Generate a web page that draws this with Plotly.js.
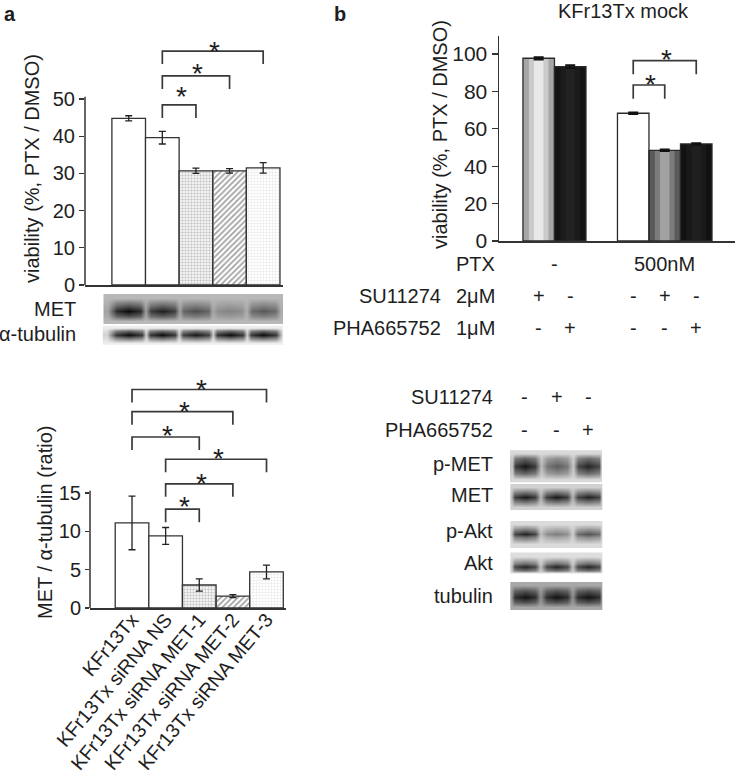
<!DOCTYPE html>
<html><head><meta charset="utf-8">
<script src="https://cdn.plot.ly/plotly-3.0.1.min.js"></script>
<style>html,body{margin:0;padding:0;background:#fff}#chart{width:737px;height:776px}</style>
</head><body><div id="chart"></div>
<script>
// ================= DATA =================
// Panel a
const aCategories = ['KFr13Tx','KFr13Tx siRNA NS','KFr13Tx siRNA MET-1','KFr13Tx siRNA MET-2','KFr13Tx siRNA MET-3'];
const aIndex = [0,1,2,3,4];
const aViability = [44.8, 39.6, 30.7, 30.7, 31.5];
const aViabilityErr = [0.7, 1.7, 0.7, 0.6, 1.4];
const aRatio = [11.1, 9.4, 3.0, 1.55, 4.7];
const aRatioErr = [3.5, 1.1, 0.8, 0.2, 0.9];
const aViabTicks = [0,10,20,30,40,50];
const aRatioTicks = [0,5,10,15];
// significance brackets (category index from / to, bracket top, star centre)
const aViabSigFrom = [1,1,1];
const aViabSigTo   = [2,3,4];
const aViabSigTop  = [48.4, 56.2, 62.9];
const aViabSigStar = [52.7, 58.9, 65.0];
const aRatioSigFrom = [0,0,0,1,1,1];
const aRatioSigTo   = [4,3,2,4,3,2];
const aRatioSigTop  = [28.5, 25.6, 22.3, 19.4, 16.2, 12.9];
const aRatioSigStar = [29.6, 26.7, 23.6, 20.5, 17.3, 14.3];
// western blot band strength per lane (panel a)
const aBlotMET = [1.0, 0.88, 0.6, 0.3, 0.55];
const aBlotTubulin = [1.0, 1.0, 0.95, 1.0, 1.0];

// Panel b
const bPositions = [0,1,3,4,5];
const bViability = [97.7, 93.2, 68.3, 48.5, 51.9];
const bViabilityErr = [0.6, 0.7, 0.4, 0.4, 0.4];
const bTicks = [0,20,40,60,80,100];
const bSigFrom = [3,3];
const bSigTo   = [4,5];
const bSigTop  = [83.4, 96.4];
const bSigStar = [88.2, 101.2];
const bPTXLabels = ['-','500nM'];
const bPTXPos = [0.5, 4];
const bSU11274 = ['+','-','-','+','-'];
const bPHA665752 = ['-','+','-','-','+'];
// western blot (panel b)
const bLanes = [0,1,2];
const bBlotSU = ['-','+','-'];
const bBlotPHA = ['-','-','+'];
const bBlotPMET = [0.95, 0.6, 0.88];
const bBlotMET = [0.92, 0.92, 0.88];
const bBlotPAkt = [0.88, 0.45, 0.65];
const bBlotAkt = [0.88, 0.88, 0.88];
const bBlotTubulin = [0.95, 0.95, 0.95];

// ================= HELPERS =================
const W = 737, H = 776;
const px = v => v / W;
const py = v => 1 - v / H;
const FONT = 'Liberation Sans, Arial, sans-serif';
const TXT = '#1e1e1e';
const FS = 20;

function brackets(from, to, top, drop, xa, ya) {
  const x = [], y = [];
  from.forEach((f, i) => {
    x.push(f, f, to[i], to[i], null);
    y.push(top[i] - drop, top[i], top[i], top[i] - drop, null);
  });
  return {type:'scatter', mode:'lines', x, y, xaxis:xa, yaxis:ya,
    line:{color:'#3a3a3a', width:1.7}, hoverinfo:'skip', showlegend:false};
}
function stars(from, to, yv, xa, ya) {
  return from.map((f, i) => ({text:'*', x:(f + to[i]) / 2 + 0.06, y:yv[i], xref:xa, yref:ya,
    showarrow:false, yshift:-8, font:{size:28, family:FONT, color:TXT}}));
}
const rowFactor = [0, 0.6, 1, 0.6, 0];
function blot(strength, lanePos, laneHalf, x0, x1, yTop, yBot, yc, hh, bg, xa, ya) {
  const cols = [{x:x0, lane:0, f:0.12}];
  lanePos.forEach((p, i) => {
    cols.push({x:p - laneHalf, lane:i, f:0.8});
    cols.push({x:p, lane:i, f:1});
    cols.push({x:p + laneHalf, lane:i, f:0.8});
    if (i < lanePos.length - 1) cols.push({x:(p + lanePos[i + 1]) / 2, lane:i, f:0.15});
  });
  cols.push({x:x1, lane:lanePos.length - 1, f:0.12});
  const ys = [yTop, yc - hh, yc, yc + hh, yBot];
  const z = ys.map((_, r) => cols.map(c => bg - (bg - 0.04) * strength[c.lane] * c.f * rowFactor[r]));
  return {type:'heatmap', x:cols.map(c => c.x), y:ys, z, zsmooth:'best',
    colorscale:[[0,'#000'],[1,'#fff']], zmin:0, zmax:1, showscale:false,
    hoverinfo:'skip', xaxis:xa, yaxis:ya};
}

// bar styling (panel a)
const aFill = ['#ffffff','#ffffff','#c9c9c9','#a2a2a2','#e6e6e6'];
const aPatShape = ['','','.','/','+'];
const aPatFg = ['#000','#000','#6a6a6a','#444444','#a8a8a8'];
const aPatSize = [4,4,3,4,3];
const aPatSol = [0.3,0.3,0.5,0.45,0.3];
function aBars(yv, err, xa, ya) {
  return {type:'bar', x:aIndex, y:yv, width:1, xaxis:xa, yaxis:ya, hoverinfo:'skip', showlegend:false,
    marker:{color:aFill, line:{color:'#333', width:1.3},
      pattern:{shape:aPatShape, fgcolor:aPatFg, bgcolor:aFill, size:aPatSize, solidity:aPatSol}},
    error_y:{type:'data', array:err, visible:true, color:'#222', thickness:1.3, width:3.5}};
}

// ================= TRACES =================
const traces = [];
traces.push(aBars(aViability, aViabilityErr, 'x', 'y'));
traces.push(brackets(aViabSigFrom, aViabSigTo, aViabSigTop, 3.5, 'x', 'y'));
traces.push(aBars(aRatio, aRatioErr, 'x2', 'y2'));
traces.push(brackets(aRatioSigFrom, aRatioSigTo, aRatioSigTop, 1.7, 'x2', 'y2'));

// panel b bars with shaded (cylinder-like) fills
const bBase = ['#a6a6a6','#141414','#ffffff','#5a5a5a','#111111'];
const bMid  = ['#cacaca','#1b1b1b','#ffffff','#7c7c7c','#191919'];
const bLight= ['#e8e8e8','#222222','#ffffff','#a2a2a2','#1f1f1f'];
traces.push({type:'bar', x:bPositions, y:bViability, width:1, xaxis:'x3', yaxis:'y3',
  marker:{color:bBase, line:{width:0}}, hoverinfo:'skip', showlegend:false});
traces.push({type:'bar', x:bPositions, y:bViability, width:0.62, xaxis:'x3', yaxis:'y3',
  marker:{color:bMid, line:{width:0}}, hoverinfo:'skip', showlegend:false});
traces.push({type:'bar', x:bPositions, y:bViability, width:0.3, xaxis:'x3', yaxis:'y3',
  marker:{color:bLight, line:{width:0}}, hoverinfo:'skip', showlegend:false});
traces.push({type:'bar', x:bPositions, y:bViability, width:1, xaxis:'x3', yaxis:'y3',
  marker:{color:'rgba(0,0,0,0)', line:{color:'#2a2a2a', width:1.3}}, hoverinfo:'skip', showlegend:false,
  error_y:{type:'data', array:bViabilityErr, visible:true, color:'#111', thickness:2, width:5}});
traces.push(brackets(bSigFrom, bSigTo, bSigTop, 7.3, 'x3', 'y3'));

// western blots
traces.push(blot(aBlotMET, aIndex, 0.36, -0.62, 4.52, 298, 321, 311, 5, 0.72, 'x', 'y4'));
traces.push(blot(aBlotTubulin, aIndex, 0.38, -0.64, 4.54, 327.5, 342.5, 334.5, 3.5, 0.93, 'x', 'y4'));
traces.push(blot(bBlotPMET, bLanes, 0.32, -0.42, 2.4, 453, 479, 466, 7.5, 0.85, 'x5', 'y5'));
traces.push(blot(bBlotMET, bLanes, 0.34, -0.42, 2.4, 487, 507, 497, 4, 0.82, 'x5', 'y5'));
traces.push(blot(bBlotPAkt, bLanes, 0.34, -0.42, 2.4, 524, 544, 533.5, 3.5, 0.86, 'x5', 'y5'));
traces.push(blot(bBlotAkt, bLanes, 0.34, -0.42, 2.4, 556, 572, 566.5, 3.5, 0.87, 'x5', 'y5'));
traces.push(blot(bBlotTubulin, bLanes, 0.34, -0.42, 2.4, 585, 607, 596.5, 5.5, 0.66, 'x5', 'y5'));

// ================= ANNOTATIONS =================
const ann = [];
function label(text, xpx, basePx, anchor, size, extra) {
  const fs = size || FS;
  ann.push(Object.assign({text, x:px(xpx), y:py(basePx - 0.3 * fs), xref:'paper', yref:'paper',
    xanchor:anchor || 'right', yanchor:'middle', showarrow:false,
    font:{size:fs, family:FONT, color:TXT}}, extra || {}));
}
ann.push({text:'<b>a</b>', x:px(2), y:py(13.5), xref:'paper', yref:'paper', xanchor:'left', yanchor:'middle',
  showarrow:false, font:{size:20, family:FONT, color:TXT}});
ann.push({text:'<b>b</b>', x:px(332), y:py(13.5), xref:'paper', yref:'paper', xanchor:'left', yanchor:'middle',
  showarrow:false, font:{size:20, family:FONT, color:TXT}});
label('KFr13Tx mock', 623, 17, 'center', 20);
// y axis titles
ann.push({text:'viability (%, PTX / DMSO)', textangle:-90, x:px(32), y:py(169), xref:'paper', yref:'paper',
  xanchor:'center', yanchor:'middle', showarrow:false, font:{size:FS, family:FONT, color:TXT}});
ann.push({text:'MET / α-tubulin (ratio)', textangle:-90, x:px(45), y:py(523), xref:'paper', yref:'paper',
  xanchor:'center', yanchor:'middle', showarrow:false, font:{size:FS, family:FONT, color:TXT}});
ann.push({text:'viability (%, PTX / DMSO)', textangle:-90, x:px(440), y:py(134), xref:'paper', yref:'paper',
  xanchor:'center', yanchor:'middle', showarrow:false, font:{size:FS, family:FONT, color:TXT}});
// panel a blot labels
label('MET', 78, 315);
label('α-tubulin', 78, 340);
// panel b condition rows
label('PTX', 497, 270);
label('SU11274', 443, 302);
label('2μM', 497, 302);
label('PHA665752', 443, 334);
label('1μM', 497, 334);
function signs(arr, pos, basePx, xa) {
  arr.forEach((s, i) => ann.push({text:s, x:pos[i], xref:xa, y:py(basePx - 0.3 * FS), yref:'paper',
    xanchor:'center', yanchor:'middle', showarrow:false, font:{size:FS, family:FONT, color:TXT}}));
}
signs(bPTXLabels, bPTXPos, 270, 'x3');
signs(bSU11274, bPositions, 302, 'x3');
signs(bPHA665752, bPositions, 334, 'x3');
// panel b blot section
label('SU11274', 495, 403);
label('PHA665752', 495, 436);
signs(bBlotSU, bLanes, 403, 'x5');
signs(bBlotPHA, bLanes, 436, 'x5');
label('p-MET', 495, 470);
label('MET', 495, 501.5);
label('p-Akt', 495, 536.5);
label('Akt', 495, 569);
label('tubulin', 495, 601.5);
// stars
ann.push(...stars(aViabSigFrom, aViabSigTo, aViabSigStar, 'x', 'y'));
ann.push(...stars(aRatioSigFrom, aRatioSigTo, aRatioSigStar, 'x2', 'y2'));
ann.push(...stars(bSigFrom, bSigTo, bSigStar, 'x3', 'y3'));

// partial y-axis lines for panel a charts
const shapes = [
  {type:'line', xref:'x domain', yref:'y', x0:0, x1:0, y0:0, y1:50.6, line:{color:'#333', width:1.5}},
  {type:'line', xref:'x2 domain', yref:'y2', x0:0, x1:0, y0:0, y1:15.3, line:{color:'#333', width:1.5}}
];

const tickFont = {size:FS, family:FONT, color:TXT};
const layout = {
  width:W, height:H, autosize:false, margin:{l:0, r:0, t:0, b:0},
  paper_bgcolor:'#fff', plot_bgcolor:'rgba(0,0,0,0)', showlegend:false,
  barmode:'overlay', font:{family:FONT, size:FS, color:TXT},
  xaxis:{domain:[px(85), px(283)], range:[-1.30, 4.59], anchor:'y', showline:true, linecolor:'#333', linewidth:1.5,
    ticks:'', showticklabels:false, showgrid:false, zeroline:false, fixedrange:true},
  yaxis:{domain:[py(285), py(36)], range:[0, 66.94], anchor:'x', showline:false, ticks:'outside', ticklen:5,
    tickcolor:'#333', tickwidth:1.3, tickvals:aViabTicks, tickfont:tickFont, showgrid:false, zeroline:false},
  yaxis4:{domain:[py(348), py(294)], range:[348, 294], anchor:'x', visible:false, showgrid:false, zeroline:false},
  xaxis2:{domain:[px(90), px(286)], range:[-1.25, 4.58], anchor:'y2', showline:true, linecolor:'#333', linewidth:1.5,
    ticks:'', tickvals:aIndex, ticktext:aCategories, tickangle:-50, ticklabelstandoff:-9, tickfont:{size:19.5, family:FONT, color:TXT},
    showgrid:false, zeroline:false},
  yaxis2:{domain:[py(608), py(372)], range:[0, 30.78], anchor:'x2', showline:false, ticks:'outside', ticklen:4,
    tickcolor:'#333', tickwidth:1.3, tickvals:aRatioTicks, tickfont:tickFont, showgrid:false, zeroline:false},
  xaxis3:{domain:[px(499), px(735)], range:[-1.26, 6.23], anchor:'y3', showline:true, linecolor:'#333', linewidth:1.5,
    ticks:'', showticklabels:false, showgrid:false, zeroline:false},
  yaxis3:{domain:[py(241), py(36)], range:[0, 109.6], anchor:'x3', showline:true, linecolor:'#333', linewidth:1.5,
    ticks:'outside', ticklen:6, tickcolor:'#333', tickwidth:1.3, tickvals:bTicks, tickfont:{size:21, family:FONT, color:TXT},
    showgrid:false, zeroline:false},
  xaxis5:{domain:[px(510), px(603)], range:[-0.47, 2.46], anchor:'y5', visible:false, showgrid:false, zeroline:false},
  yaxis5:{domain:[py(610), py(450)], range:[610, 450], anchor:'x5', visible:false, showgrid:false, zeroline:false},
  annotations:ann, shapes:shapes
};
Plotly.newPlot('chart', traces, layout, {staticPlot:true, displayModeBar:false});
</script>
</body></html>
